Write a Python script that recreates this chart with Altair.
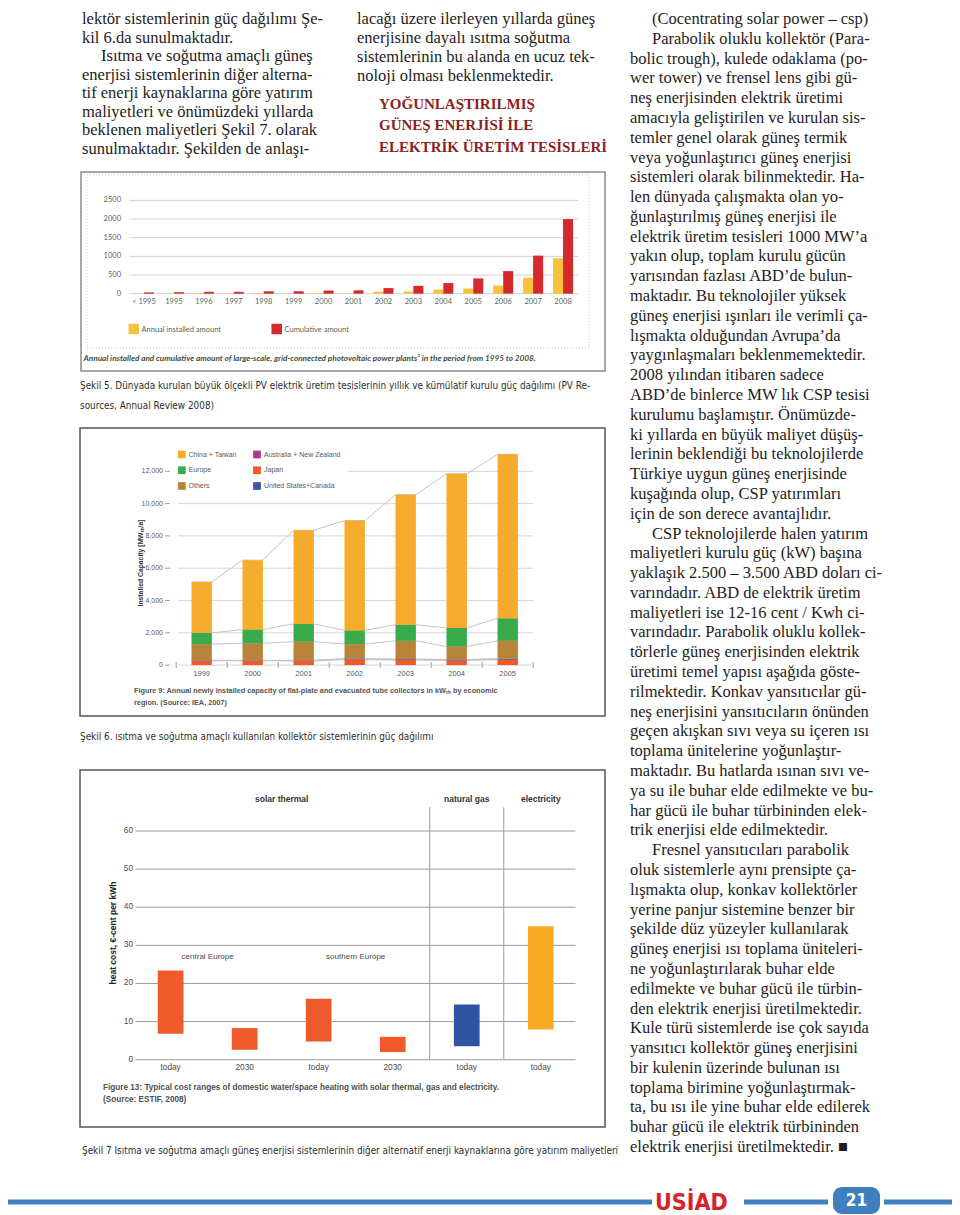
import altair as alt
import pandas as pd

OFF = 8  # page margin of the html body


def P(v):
    """page pixel -> chart pixel"""
    return v - OFF


W, H = 944, 1207

# ------------------------------------------------------------------ text data
left_lines = [
    "lektör sistemlerinin güç dağılımı Şe-",
    "kil 6.da sunulmaktadır.",
    "Isıtma ve soğutma amaçlı güneş",
    "enerjisi sistemlerinin diğer alterna-",
    "tif enerji kaynaklarına göre yatırım",
    "maliyetleri ve önümüzdeki yıllarda",
    "beklenen maliyetleri Şekil 7. olarak",
    "sunulmaktadır. Şekilden de anlaşı-",
]
left_indent = [0, 0, 1, 0, 0, 0, 0, 0]

mid_lines = [
    "lacağı üzere ilerleyen yıllarda güneş",
    "enerjisine dayalı ısıtma soğutma",
    "sistemlerinin bu alanda en ucuz tek-",
    "noloji olması beklenmektedir.",
]
head_lines = ["YOĞUNLAŞTIRILMIŞ", "GÜNEŞ ENERJİSİ İLE", "ELEKTRİK ÜRETİM TESİSLERİ"]

right_lines = [
    "(Cocentrating solar power – csp)",
    "Parabolik oluklu kollektör (Para-",
    "bolic trough), kulede odaklama (po-",
    "wer tower) ve frensel lens gibi gü-",
    "neş enerjisinden elektrik üretimi",
    "amacıyla geliştirilen ve kurulan sis-",
    "temler genel olarak güneş termik",
    "veya yoğunlaştırıcı güneş enerjisi",
    "sistemleri olarak bilinmektedir. Ha-",
    "len dünyada çalışmakta olan yo-",
    "ğunlaştırılmış güneş enerjisi ile",
    "elektrik üretim tesisleri 1000 MW’a",
    "yakın olup, toplam kurulu gücün",
    "yarısından fazlası ABD’de bulun-",
    "maktadır. Bu teknolojiler yüksek",
    "güneş enerjisi ışınları ile verimli ça-",
    "lışmakta olduğundan Avrupa’da",
    "yaygınlaşmaları beklenmemektedir.",
    "2008 yılından itibaren sadece",
    "ABD’de binlerce MW lık CSP tesisi",
    "kurulumu başlamıştır. Önümüzde-",
    "ki yıllarda en büyük maliyet düşüş-",
    "lerinin beklendiği bu teknolojilerde",
    "Türkiye uygun güneş enerjisinde",
    "kuşağında olup, CSP yatırımları",
    "için de son derece avantajlıdır.",
    "CSP teknolojilerde halen yatırım",
    "maliyetleri kurulu güç (kW) başına",
    "yaklaşık 2.500 – 3.500 ABD doları ci-",
    "varındadır. ABD de elektrik üretim",
    "maliyetleri ise 12-16 cent / Kwh ci-",
    "varındadır. Parabolik oluklu kollek-",
    "törlerle güneş enerjisinden elektrik",
    "üretimi temel yapısı aşağıda göste-",
    "rilmektedir. Konkav yansıtıcılar gü-",
    "neş enerjisini yansıtıcıların önünden",
    "geçen akışkan sıvı veya su içeren ısı",
    "toplama ünitelerine yoğunlaştır-",
    "maktadır. Bu hatlarda ısınan sıvı ve-",
    "ya su ile buhar elde edilmekte ve bu-",
    "har gücü ile buhar türbininden elek-",
    "trik enerjisi elde edilmektedir.",
    "Fresnel yansıtıcıları parabolik",
    "oluk sistemlerle aynı prensipte ça-",
    "lışmakta olup, konkav kollektörler",
    "yerine panjur sistemine benzer bir",
    "şekilde düz yüzeyler kullanılarak",
    "güneş enerjisi ısı toplama üniteleri-",
    "ne yoğunlaştırılarak buhar elde",
    "edilmekte ve buhar gücü ile türbin-",
    "den elektrik enerjisi üretilmektedir.",
    "Kule türü sistemlerde ise çok sayıda",
    "yansıtıcı kollektör güneş enerjisini",
    "bir kulenin üzerinde bulunan ısı",
    "toplama birimine yoğunlaştırmak-",
    "ta, bu ısı ile yine buhar elde edilerek",
    "buhar gücü ile elektrik türbininden",
    "elektrik enerjisi üretilmektedir. ■",
]
right_indent_rows = [0, 1, 26, 42]

cap5_lines = [
    "Şekil 5. Dünyada kurulan büyük ölçekli PV elektrik üretim tesislerinin yıllık ve kümülatif kurulu güç dağılımı (PV Re-",
    "sources, Annual Review 2008)",
]
cap6_text = "Şekil 6. ısıtma ve soğutma amaçlı kullanılan kollektör sistemlerinin güç dağılımı"
cap7_text = ("Şekil 7 Isıtma ve soğutma amaçlı güneş enerjisi sistemlerinin diğer alternatif "
             "enerji kaynaklarına göre yatırım maliyetleri")

# ------------------------------------------------------------------ figure 5 data
cats5 = ["< 1995", "1995", "1996", "1997", "1998", "1999", "2000", "2001",
         "2002", "2003", "2004", "2005", "2006", "2007", "2008"]
annual5 = [0, 5, 20, 5, 20, 5, 20, 10, 55, 60, 110, 140, 220, 430, 950]
cumulative5 = [35, 40, 50, 50, 65, 65, 85, 90, 150, 210, 285, 410, 605, 1020, 2000]
series5 = ["Annual installed amount", "Cumulative amount"]
ticks5 = [0, 500, 1000, 1500, 2000, 2500]
caption5 = ("Annual installed and cumulative amount of large-scale, grid-connected "
            "photovoltaic power plants¹ in the period from 1995 to 2008.")

# ------------------------------------------------------------------ figure 9 data
years9 = [1999, 2000, 2001, 2002, 2003, 2004, 2005]
japan9 = [270, 270, 260, 340, 310, 290, 330]
usca9 = [15, 15, 20, 30, 35, 35, 40]
ausnz9 = [15, 15, 20, 30, 30, 25, 30]
others9 = [1000, 1050, 1150, 900, 1125, 800, 1100]
europe9 = [700, 850, 1100, 850, 1000, 1150, 1400]
china9 = [3150, 4300, 5800, 6800, 8050, 9550, 10150]
stack9 = [("Japan", japan9), ("United States+Canada", usca9),
          ("Australia + New Zealand", ausnz9), ("Others", others9),
          ("Europe", europe9), ("China + Taiwan", china9)]
legend9_col0 = ["China + Taiwan", "Europe", "Others"]
legend9_col1 = ["Australia + New Zealand", "Japan", "United States+Canada"]
ticks9 = [0, 2000, 4000, 6000, 8000, 10000, 12000]
caption9 = ["Figure 9: Annual newly installed capacity of flat-plate and evacuated tube collectors in kWₜₕ by economic",
            "region. (Source: IEA, 2007)"]

# ------------------------------------------------------------------ figure 13 data
labels13 = ["today", "2030", "today", "2030", "today", "today"]
groups13 = ["solar", "solar", "solar", "solar", "gas", "electricity"]
low13 = [6.8, 2.6, 4.8, 2.0, 3.5, 7.9]
high13 = [23.4, 8.3, 16.0, 6.0, 14.5, 35.0]
headers13 = ["solar thermal", "natural gas", "electricity"]
header_start13 = [0, 4, 5]
header_end13 = [4, 5, 6]
regions13 = ["central Europe", "southern Europe"]
region_start13 = [0, 2]
region_end13 = [2, 4]
ticks13 = [0, 10, 20, 30, 40, 50, 60]
caption13 = ["Figure 13: Typical cost ranges of domestic water/space heating with solar thermal, gas and electricity.",
             "(Source: ESTIF, 2008)"]

# ------------------------------------------------------------------ styles
SERIF = "Liberation Serif"
COND = "DejaVu Sans Condensed, Liberation Sans Narrow, sans-serif"
SANS = "Liberation Sans"
HUM = "Lato"
BODY = "#1e1c1c"
ONE = pd.DataFrame({"a": [0]})


def block(lines, x0, y0, step, indents=None, indent_px=21, **mk):
    n = len(lines)
    if indents is None:
        indents = [0] * n
    df = pd.DataFrame({"t": lines, "i": list(range(n)), "ind": indents})
    m = max(n - 1, 1)
    ys = alt.Scale(domain=[0, m], range=[P(y0), P(y0 + step * m)], nice=False, zero=False)
    xs = alt.Scale(domain=[0, 1], range=[P(x0), P(x0 + indent_px)], nice=False, zero=False)
    return alt.Chart(df).mark_text(align="left", baseline="alphabetic", **mk).encode(
        x=alt.X("ind:Q", scale=xs, axis=None),
        y=alt.Y("i:Q", scale=ys, axis=None),
        text="t:N",
    )


def label(text, x, y, **mk):
    return alt.Chart(pd.DataFrame({"t": [text]})).mark_text(**mk).encode(
        x=alt.value(P(x)), y=alt.value(P(y)), text="t:N")


def frame(x1, y1, x2, y2, **mk):
    return alt.Chart(ONE).mark_rect(**mk).encode(
        x=alt.value(P(x1)), x2=alt.value(P(x2)), y=alt.value(P(y1)), y2=alt.value(P(y2)))


def hline(x1, x2, y, **mk):
    return alt.Chart(ONE).mark_rule(**mk).encode(
        x=alt.value(P(x1)), x2=alt.value(P(x2)), y=alt.value(P(y)))


layers = []

# ------------------------------------------------------------------ body text
txt = dict(font=SERIF, fontSize=16.5, color=BODY)
layers.append(block(left_lines, 82, 24, 18.5, left_indent, 19, **txt))
layers.append(block(mid_lines, 357, 24, 19, None, 21, **txt))
layers.append(block(head_lines, 379, 109, 21.3, None, 21, font=SERIF, fontSize=15,
                    fontWeight="bold", color="#8a1f24"))
right_indent = [1 if i in right_indent_rows else 0 for i in range(len(right_lines))]
layers.append(block(right_lines, 630, 24, 19.79, right_indent, 22, **txt))

cap = dict(font=COND, fontSize=9.9, color="#2e2e2e")
layers.append(block(cap5_lines, 80, 389, 19.5, None, 0, **cap))
layers.append(label(cap6_text, 80, 740, align="left", baseline="alphabetic", **cap))
layers.append(label(cap7_text, 82, 1154, align="left", baseline="alphabetic", **cap))

# ------------------------------------------------------------------ figure 5
C5 = "#56675a"
layers.append(frame(81, 172, 605, 371, fillOpacity=0, stroke="#8c8c8c", strokeWidth=1.5))
layers.append(frame(87, 175, 589, 348, fillOpacity=0, stroke="#c8c8c8", strokeWidth=1,
                    strokeDash=[1, 2]))

xs5 = alt.Scale(domain=cats5, range=[P(129), P(578)], paddingInner=0.33, paddingOuter=0.165)
ys5 = alt.Scale(domain=[0, 2500], range=[P(293.7), P(200.4)], nice=False, zero=False)
cs5 = alt.Scale(domain=series5, range=["#f7c23e", "#d42a2e"])

df5 = pd.DataFrame({
    "cat": cats5 * 2,
    "series": [series5[0]] * len(cats5) + [series5[1]] * len(cats5),
    "value": annual5 + cumulative5,
})
grid5 = alt.Chart(pd.DataFrame({"value": ticks5})).mark_rule(color="#d2d2d2", strokeWidth=1).encode(
    y=alt.Y("value:Q", scale=ys5, axis=None), x=alt.value(P(129)), x2=alt.value(P(578)))
ylab5 = alt.Chart(pd.DataFrame({"value": ticks5})).mark_text(
    align="right", baseline="middle", font=HUM, fontSize=7.5, color=C5).encode(
    y=alt.Y("value:Q", scale=ys5, axis=None), x=alt.value(P(121)), text="value:N")
bars5 = alt.Chart(df5).mark_bar().encode(
    x=alt.X("cat:N", scale=xs5, axis=None, sort=cats5),
    xOffset=alt.XOffset("series:N", scale=alt.Scale(domain=series5, paddingInner=0, paddingOuter=0)),
    y=alt.Y("value:Q", scale=ys5, axis=None),
    color=alt.Color("series:N", scale=cs5, legend=None),
)
xlab5 = alt.Chart(pd.DataFrame({"cat": cats5})).mark_text(
    baseline="middle", font=HUM, fontSize=7.5, color=C5).encode(
    x=alt.X("cat:N", scale=xs5, axis=None, sort=cats5), y=alt.value(P(302)), text="cat:N")
leg5 = pd.DataFrame({"series": series5, "slot": [0, 1]})
legsq5 = alt.Chart(leg5).mark_square(size=110, opacity=1).encode(
    x=alt.X("slot:Q", scale=alt.Scale(domain=[0, 1], range=[P(133.7), P(276.7)], nice=False, zero=False), axis=None),
    y=alt.value(P(329)),
    color=alt.Color("series:N", scale=cs5, legend=None))
legtx5 = alt.Chart(leg5).mark_text(align="left", baseline="middle", font=HUM, fontSize=7.5, color=C5).encode(
    x=alt.X("slot:Q", scale=alt.Scale(domain=[0, 1], range=[P(141.5), P(284.5)], nice=False, zero=False), axis=None),
    y=alt.value(P(329.5)), text="series:N")
fig5 = alt.layer(grid5, ylab5, bars5, xlab5)
layers.append(fig5)
layers.append(legsq5)
layers.append(legtx5)
layers.append(label(caption5, 83.5, 360.5, align="left", baseline="alphabetic", font=HUM,
                    fontSize=8.2, fontStyle="italic", fontWeight="bold", color="#3f4f42"))

# ------------------------------------------------------------------ figure 9
C9 = "#5a5a5a"
layers.append(frame(80, 428, 605, 716, fillOpacity=0, stroke="#555555", strokeWidth=1.5))
xs9 = alt.Scale(domain=[1998.5, 2005.5], range=[P(176.2), P(533.2)], nice=False, zero=False)
ys9 = alt.Scale(domain=[0, 12000], range=[P(665.1), P(471.3)], nice=False, zero=False)
reg_order = [name for name, _ in stack9]
cs9 = alt.Scale(domain=reg_order,
                range=["#ef5a28", "#3a55a4", "#b5338a", "#b8843a", "#3aab4b", "#f5ac2c"])

rows = []
for yi, yr in enumerate(years9):
    base = 0
    for name, vals in stack9:
        rows.append({"year": yr, "region": name, "y0": base, "y1": base + vals[yi]})
        base += vals[yi]
df9 = pd.DataFrame(rows)
conn_rows = []
for r in rows:
    for side in (-1, 1):
        conn_rows.append({"year": r["year"], "side": side, "region": r["region"], "top": r["y1"]})
dfc9 = pd.DataFrame(conn_rows)

grid9 = alt.Chart(pd.DataFrame({"v": ticks9})).mark_rule(color="#d6d6d6", strokeWidth=1).encode(
    y=alt.Y("v:Q", scale=ys9, axis=None), x=alt.value(P(178)), x2=alt.value(P(533)))
ytick9 = alt.Chart(pd.DataFrame({"v": ticks9})).mark_rule(color="#a0a0a0", strokeWidth=1).encode(
    y=alt.Y("v:Q", scale=ys9, axis=None), x=alt.value(P(165)), x2=alt.value(P(170)))
ylab9 = alt.Chart(pd.DataFrame({"v": ticks9})).transform_calculate(
    lab="format(datum.v, ',')").mark_text(
    align="right", baseline="middle", font=SANS, fontSize=7, color=C9).encode(
    y=alt.Y("v:Q", scale=ys9, axis=None), x=alt.value(P(163)), text="lab:N")
conn9 = alt.Chart(dfc9).transform_calculate(xp="datum.year + datum.side * 0.2").mark_line(
    color="#c4c4c4", strokeWidth=1).encode(
    x=alt.X("xp:Q", scale=xs9, axis=None), y=alt.Y("top:Q", scale=ys9, axis=None),
    detail="region:N", order="xp:Q")
bars9 = alt.Chart(df9).transform_calculate(
    xl="datum.year - 0.2", xr="datum.year + 0.2").mark_rect().encode(
    x=alt.X("xl:Q", scale=xs9, axis=None), x2="xr:Q",
    y=alt.Y("y0:Q", scale=ys9, axis=None), y2="y1:Q",
    color=alt.Color("region:N", scale=cs9, legend=None))
bounds9 = [y - 0.5 for y in years9] + [years9[-1] + 0.5]
xtick9 = alt.Chart(pd.DataFrame({"b": bounds9})).mark_rule(color="#a0a0a0").encode(
    x=alt.X("b:Q", scale=xs9, axis=None), y=alt.value(P(662)), y2=alt.value(P(668)))
xlab9 = alt.Chart(pd.DataFrame({"year": years9})).mark_text(
    baseline="middle", font=SANS, fontSize=7.5, color=C9).encode(
    x=alt.X("year:Q", scale=xs9, axis=None), y=alt.value(P(673.5)), text="year:N")
legbg9 = frame(176, 446, 347, 492, fill="white", stroke="white")
leg9 = pd.DataFrame({
    "region": legend9_col0 + legend9_col1,
    "col": [0, 0, 0, 1, 1, 1],
    "row": [0, 1, 2, 0, 1, 2],
})
lx9 = alt.Scale(domain=[0, 1], range=[P(181.8), P(257)], nice=False, zero=False)
lxt9 = alt.Scale(domain=[0, 1], range=[P(188.5), P(264)], nice=False, zero=False)
ly9 = alt.Scale(domain=[0, 2], range=[P(454.5), P(486)], nice=False, zero=False)
legsq9 = alt.Chart(leg9).mark_square(size=60, opacity=1).encode(
    x=alt.X("col:Q", scale=lx9, axis=None), y=alt.Y("row:Q", scale=ly9, axis=None),
    color=alt.Color("region:N", scale=cs9, legend=None))
legtx9 = alt.Chart(leg9).mark_text(align="left", baseline="middle", font=SANS, fontSize=7,
                                   color=C9).encode(
    x=alt.X("col:Q", scale=lxt9, axis=None), y=alt.Y("row:Q", scale=ly9, axis=None), text="region:N")
fig9 = alt.layer(grid9, ytick9, ylab9, conn9, bars9, xtick9, xlab9)
layers.append(fig9)
layers.append(legbg9)
layers.append(legsq9)
layers.append(legtx9)
layers.append(label("Installed Capacity [MWₜₕ/a]", 141, 563, angle=270, align="center",
                    baseline="middle", font=SANS, fontSize=6.8, fontWeight="bold", color="#333333"))
layers.append(block(caption9, 134, 692.5, 12, None, 0, font=SANS, fontSize=7.3,
                    fontWeight="bold", color="#555555"))

# ------------------------------------------------------------------ figure 13
C13 = "#4a4a4a"
layers.append(frame(80, 770, 605, 1127, fillOpacity=0, stroke="#555555", strokeWidth=1.5))
xs13 = alt.Scale(domain=[0, 6], range=[P(133.6), P(577.8)], nice=False, zero=False)
ys13 = alt.Scale(domain=[0, 60], range=[P(1059.7), P(831)], nice=False, zero=False)
cs13 = alt.Scale(domain=["solar", "gas", "electricity"], range=["#ee5a2a", "#2f54a3", "#f6a925"])

df13 = pd.DataFrame({"idx": list(range(len(labels13))), "label": labels13, "group": groups13,
                     "low": low13, "high": high13})
grid13 = alt.Chart(pd.DataFrame({"v": ticks13})).mark_rule(color="#9c9c9c", strokeWidth=1).encode(
    y=alt.Y("v:Q", scale=ys13, axis=None), x=alt.value(P(135.5)), x2=alt.value(P(575.5)))
ylab13 = alt.Chart(pd.DataFrame({"v": ticks13})).mark_text(
    align="right", baseline="middle", font=SANS, fontSize=8.3, color=C13).encode(
    y=alt.Y("v:Q", scale=ys13, axis=None), x=alt.value(P(133)), text="v:N")
hdr13 = pd.DataFrame({"name": headers13, "s": header_start13, "e": header_end13})
sep13 = alt.Chart(pd.DataFrame({"b": header_start13[1:]})).mark_rule(color="#9c9c9c", strokeWidth=1).encode(
    x=alt.X("b:Q", scale=xs13, axis=None), y=alt.value(P(807.3)), y2=alt.value(P(1059.7)))
hdrtx13 = alt.Chart(hdr13).transform_calculate(xc="(datum.s + datum.e) / 2").mark_text(
    baseline="middle", font=SANS, fontSize=8.5, fontWeight="bold", color="#333333").encode(
    x=alt.X("xc:Q", scale=xs13, axis=None), y=alt.value(P(799)), text="name:N")
reg13 = pd.DataFrame({"name": regions13, "s": region_start13, "e": region_end13})
regtx13 = alt.Chart(reg13).transform_calculate(xc="(datum.s + datum.e) / 2").mark_text(
    baseline="middle", font=SANS, fontSize=8, color=C13).encode(
    x=alt.X("xc:Q", scale=xs13, axis=None), y=alt.value(P(957)), text="name:N")
bars13 = alt.Chart(df13).transform_calculate(
    xl="datum.idx + 0.5 - 0.1736", xr="datum.idx + 0.5 + 0.1736").mark_rect().encode(
    x=alt.X("xl:Q", scale=xs13, axis=None), x2="xr:Q",
    y=alt.Y("low:Q", scale=ys13, axis=None), y2="high:Q",
    color=alt.Color("group:N", scale=cs13, legend=None))
xlab13 = alt.Chart(df13).transform_calculate(xc="datum.idx + 0.5").mark_text(
    baseline="middle", font=SANS, fontSize=8.3, color=C13).encode(
    x=alt.X("xc:Q", scale=xs13, axis=None), y=alt.value(P(1067.5)), text="label:N")
fig13 = alt.layer(grid13, ylab13, sep13, hdrtx13, regtx13, bars13, xlab13)
layers.append(fig13)
layers.append(label("heat cost, €-cent per kWh", 113, 933, angle=270, align="center",
                    baseline="middle", font=SANS, fontSize=8.5, fontWeight="bold", color="#222222"))
layers.append(block(caption13, 103, 1090, 11.5, None, 0, font=SANS, fontSize=8.2,
                    fontWeight="bold", color="#505050"))

# ------------------------------------------------------------------ footer
BLUE = "#3f7fc0"
layers.append(hline(0, 652, 1202, color=BLUE, strokeWidth=5))
layers.append(hline(744, 828, 1202, color=BLUE, strokeWidth=5))
layers.append(hline(884, 960, 1202, color=BLUE, strokeWidth=5))
layers.append(frame(833, 1187, 880, 1214, fill=BLUE, cornerRadius=9))
layers.append(label("21", 856.5, 1201, align="center", baseline="middle", font=COND,
                    fontSize=17, fontWeight="bold", color="white"))
layers.append(label("USİAD", 655, 1210, align="left", baseline="alphabetic", font=COND,
                    fontSize=23, fontWeight="bold", color="#d6232a"))

chart = alt.layer(*layers).resolve_scale(
    x="independent", y="independent", color="independent"
).properties(
    width=W, height=H, padding=0, autosize=alt.AutoSizeParams(type="none"), background="white"
).configure_view(stroke=None).configure_axis(disable=True).configure_legend(disable=True)

chart.save("out.html", embed_options={"renderer": "svg", "actions": False})
